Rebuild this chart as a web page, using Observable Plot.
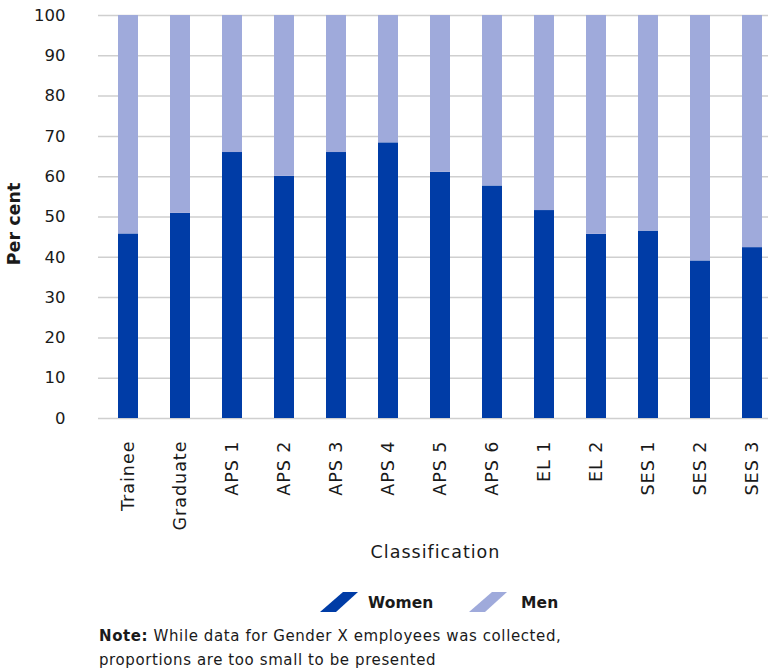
<!DOCTYPE html>
<html>
<head>
<meta charset="utf-8">
<script src="https://cdn.jsdelivr.net/npm/d3@7"></script>
<script src="https://cdn.jsdelivr.net/npm/@observablehq/plot@0.6"></script>
<style>
  html, body { margin: 0; padding: 0; background: #fff; overflow: hidden; }
  body { width: 768px; height: 670px; font-family: "DejaVu Sans", sans-serif; color: #1a1a1a; }
  #legend { position: absolute; top: 590px; left: 0; width: 768px; height: 26px; }
  .sw { position: absolute; top: 1px; }
  .lab { position: absolute; top: 2px; font-weight: 700; font-size: 15.5px; letter-spacing: 0.1px; line-height: 22px; }
  #note { position: absolute; left: 99px; top: 624px; font-size: 15px; letter-spacing: 0.6px; line-height: 24px; color: #1a1a1a; white-space: nowrap; }
</style>
</head>
<body>
<div id="chart"></div>
<div id="legend"></div>
<div id="note"><b>Note:</b> While data for Gender X employees was collected,<br>proportions are too small to be presented</div>
<script>
const categories = ["Trainee", "Graduate", "APS 1", "APS 2", "APS 3", "APS 4", "APS 5", "APS 6", "EL 1", "EL 2", "SES 1", "SES 2", "SES 3"];
const women = [45.8, 50.9, 66.0, 60.1, 66.0, 68.4, 61.1, 57.7, 51.6, 45.7, 46.5, 39.1, 42.4];
const men = women.map(w => 100 - w);
const yTicks = [0, 10, 20, 30, 40, 50, 60, 70, 80, 90, 100];
const seriesNames = ["Women", "Men"];
const seriesColors = ["#003CA6", "#9FAADB"];

const rows = categories.map((c, i) => ({cls: c, women: women[i], men: men[i]}));

const chart = Plot.plot({
  width: 768,
  height: 575,
  marginTop: 15,
  marginBottom: 157,
  marginLeft: 98,
  marginRight: 0,
  style: {fontFamily: "'DejaVu Sans', sans-serif", fontSize: "16px", color: "#1a1a1a", background: "#fff"},
  x: {domain: categories, paddingInner: 0.61, paddingOuter: 0.241, align: 0.759, label: null},
  y: {domain: [0, 100], label: null},
  marks: [
    Plot.gridY(yTicks, {stroke: "#cfcfcf", strokeOpacity: 1, strokeWidth: 1.5}),
    Plot.barY(rows, {x: "cls", y1: 0, y2: "women", fill: seriesColors[0]}),
    Plot.barY(rows, {x: "cls", y1: "women", y2: 100, fill: seriesColors[1]}),
    Plot.axisY(yTicks, {tickSize: 0, tickPadding: 33, fontSize: 16.5, label: null}),
    Plot.axisX({tickSize: 0, tickPadding: 22, tickRotate: -90, fontSize: 17.5, label: null}),
    Plot.text(["Per cent"], {frameAnchor: "left", dx: -84, dy: 7, rotate: -90, textAnchor: "middle", fontSize: 17.5, fontWeight: 600, fill: "#1a1a1a"}),
    Plot.text(["Classification"], {frameAnchor: "bottom", dy: 139, dx: 2, fontSize: 17.5, fill: "#1a1a1a"})
  ]
});
document.getElementById("chart").append(chart);

const svg = d3.select(chart);
svg.selectAll('g[aria-label="x-axis tick label"] text').style("letter-spacing", "1px");
svg.selectAll('g[aria-label="text"] text').filter(function() { return this.textContent === "Classification"; }).style("letter-spacing", "1px");

// legend
const legend = document.getElementById("legend");
const swLefts = [320, 469];
const labLefts = [368, 521];
seriesNames.forEach((name, i) => {
  const sw = document.createElement("div");
  sw.className = "sw";
  sw.style.left = swLefts[i] + "px";
  sw.innerHTML = `<svg width="38" height="22" viewBox="0 0 38 22"><polygon points="23,1 38,1 16,21 0,21" fill="${seriesColors[i]}"/></svg>`;
  legend.append(sw);
  const lab = document.createElement("div");
  lab.className = "lab";
  lab.style.left = labLefts[i] + "px";
  lab.textContent = name;
  legend.append(lab);
});
</script>
</body>
</html>
